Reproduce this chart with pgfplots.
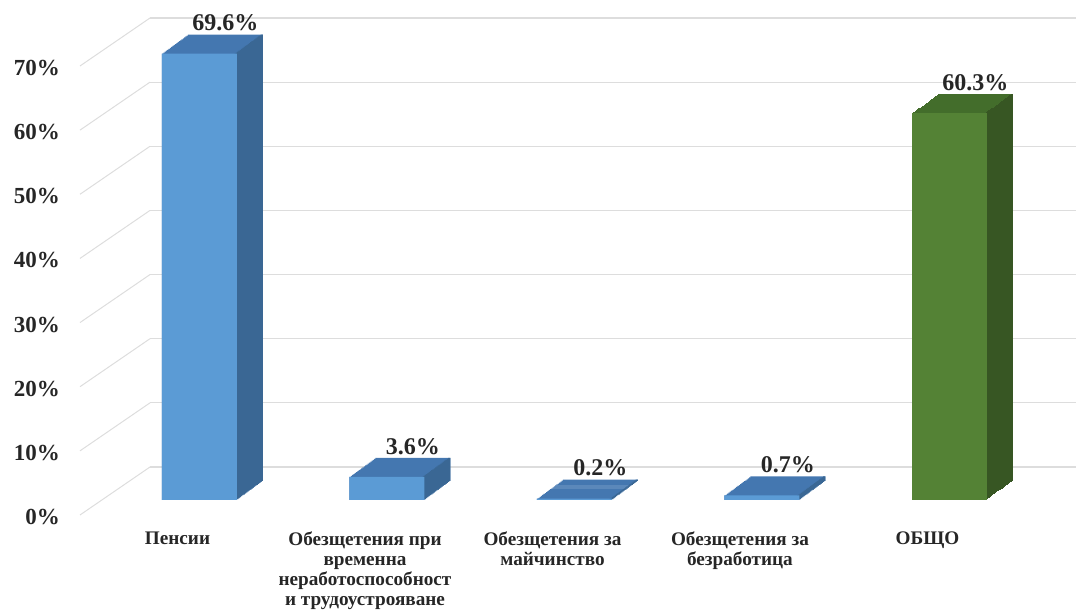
\documentclass[border=0pt]{standalone}
\usepackage{pgfplots}
\pgfplotsset{compat=1.18}
\usepackage{pgfplotstable}
\usepackage{fontspec}
\setmainfont{Liberation Serif}

\definecolor{bfront}{HTML}{5B9BD5}
\definecolor{btop}{HTML}{4477B0}
\definecolor{bside}{HTML}{3A6794}
\definecolor{gfront}{HTML}{548235}
\definecolor{gtop}{HTML}{436D2B}
\definecolor{gside}{HTML}{375623}
\definecolor{gridc}{HTML}{DDDDDD}
\definecolor{txt}{HTML}{262626}

\pgfplotstableread{
x v
0 69.6
1 3.6
2 0.2
3 0.7
}\bluedata
\pgfplotstableread{
x v
4 60.3
}\greendata

\pgfplotsset{
  /pgf/number format/assume math mode=true,
  bb/.style={ybar, bar width=37.5pt, bar shift=0pt, draw=none},
  thin/.style={ybar, bar width=1.2pt, bar shift=18.15pt, draw=none},
  vlab/.style={nodes near coords={\pgfmathprintnumber[fixed,precision=1,fixed zerofill]{\pgfplotspointmeta}\%},
    nodes near coords style={font=\fontsize{12}{14}\selectfont\bfseries, text=txt, anchor=south, inner sep=1.5pt}},
}

\begin{document}
\begin{tikzpicture}
\useasboundingbox (0,0) rectangle (538pt,306.5pt);
\begin{axis}[
  at={(75pt,73pt)}, anchor=south west,
  scale only axis, width=463pt, height=224.5pt,
  xmin=-0.264, xmax=4.675, ymin=0, ymax=70,
  clip=false,
  axis line style={draw=none},
  tick style={draw=none},
  ytick={0,10,...,70},
  ymajorgrids=true, xmajorgrids=false,
  grid style={draw=gridc, line width=0.6pt},
  yticklabel={\pgfmathprintnumber{\tick}\%},
  yticklabel style={font=\fontsize{11.5}{13}\selectfont\bfseries, text=txt, xshift=-41.5pt, yshift=-25pt},
  xtick={0,...,4},
  xticklabels={Пенсии, {Обезщетения при\\временна\\неработоспособност\\и трудоустрояване}, {Обезщетения за\\майчинство}, {Обезщетения за\\безработица}, ОБЩО},
  xticklabel style={font=\fontsize{9.6}{10}\selectfont\bfseries, text=txt, align=center, anchor=north, xshift=-11pt, yshift=-24.5pt},
]
% left wall lines
\pgfplotsinvokeforeach{0,10,...,70}{
  \draw[gridc, line width=0.5pt] (axis cs:-0.264,#1) -- ++(-35pt,-24pt);
}
% depth of the bars: top colour
\pgfplotsinvokeforeach{0,...,20}{
  \addplot[bb, fill=btop, xshift={(20-#1)*0.65pt}, yshift={-16.5pt+(20-#1)*0.475pt}] table[x=x,y=v] {\bluedata};
  \addplot[bb, fill=gtop, xshift={(20-#1)*0.65pt}, yshift={-16.5pt+(20-#1)*0.475pt}] table[x=x,y=v] {\greendata};
}
% side faces
\pgfplotsinvokeforeach{0,...,20}{
  \addplot[thin, fill=bside, xshift={(20-#1)*0.65pt}, yshift={-16.5pt+(20-#1)*0.475pt}] table[x=x,y=v] {\bluedata};
  \addplot[thin, fill=gside, xshift={(20-#1)*0.65pt}, yshift={-16.5pt+(20-#1)*0.475pt}] table[x=x,y=v] {\greendata};
}
% front faces
\addplot[bb, fill=bfront, yshift=-16.5pt] table[x=x,y=v] {\bluedata};
\addplot[bb, fill=gfront, yshift=-16.5pt] table[x=x,y=v] {\greendata};
% value labels
\addplot[bb, fill=none, xshift=13pt, yshift=-7pt, vlab] table[x=x,y=v] {\bluedata};
\addplot[bb, fill=none, xshift=13pt, yshift=-7pt, vlab] table[x=x,y=v] {\greendata};
\end{axis}
\end{tikzpicture}
\end{document}
